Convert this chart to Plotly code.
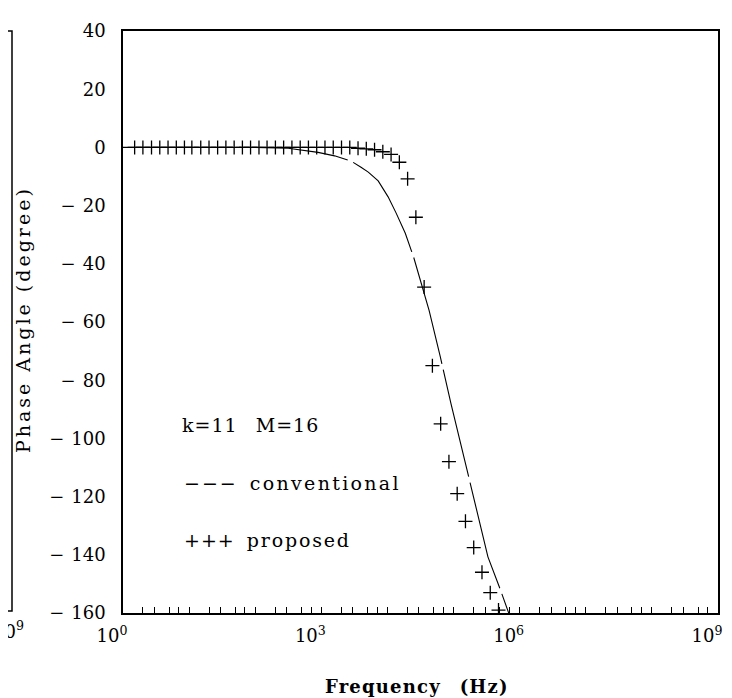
import plotly.graph_objects as go

# ---- data ----
freq_conventional = [1, 10, 100, 316, 891, 1585, 2818, 3981, 5129, 7244, 10233,
                     13490, 18621, 25119, 32359, 42658, 63096, 91201, 158489,
                     331131, 501187, 660693, 707946]
phase_conventional = [0, 0, 0, -0.3, -1.7, -2.9, -4.7, -6.8, -8.5, -11.5, -17,
                      -22.5, -29.5, -38, -46.4, -56, -72, -88, -110.5,
                      -140.7, -151.5, -159.3, -161]

freq_proposed = [1.5, 2.0, 2.7, 3.6, 4.8, 6.4, 8.5, 11, 15, 20, 27, 36, 48, 64,
                 85, 114, 151, 202, 269, 359, 479, 638, 851, 1135, 1514, 2019,
                 2692, 3590, 4786, 6383, 8511, 11350, 15136, 20184, 26915,
                 35892, 47863, 63826, 85114, 113501, 151356, 201837, 269153,
                 358922, 478630]
phase_proposed = [0, 0, 0, 0, 0, 0, 0, 0, 0, 0, 0, 0, 0, 0,
                  0, 0, 0, 0, 0, 0, 0, 0, 0, 0, 0, 0,
                  0, -0.3, -0.5, -0.8, -1.5, -2.4, -5.1, -10.8, -24,
                  -48, -75, -95, -108, -119, -128.5, -137.5, -146,
                  -153, -159]

x_major = [1, 1e3, 1e6, 1e9]
x_major_labels = ["10<sup>0</sup>", "10<sup>3</sup>", "10<sup>6</sup>", "10<sup>9</sup>"]
y_ticks = [40, 20, 0, -20, -40, -60, -80, -100, -120, -140, -160]
y_labels = ["40", "20", "0", "−20", "−40", "−60", "−80", "−100", "−120", "−140", "−160"]

# x tick positions (decades + a few minor multiples)
tickvals, ticktext = [], []
for d in range(10):
    base = 10 ** d
    tickvals.append(base)
    ticktext.append(x_major_labels[x_major.index(base)] if base in x_major else "")
    if d < 9:
        for m in (2, 3, 5, 7):
            tickvals.append(m * base)
            ticktext.append("")

def spaced_minus(s):
    if s.startswith("−"):
        return '<span style="letter-spacing:7px">−</span>' + s[1:]
    return s

FONT = "DejaVu Serif"

fig = go.Figure()
fig.add_trace(go.Scatter(
    x=freq_conventional, y=phase_conventional, mode="lines",
    line=dict(color="black", width=1.1, dash="110px,6px"),
    showlegend=False, hoverinfo="skip"))
fig.add_trace(go.Scatter(
    x=freq_proposed, y=phase_proposed, mode="markers",
    marker=dict(symbol="cross-thin", size=10, line=dict(color="black", width=1.3)),
    showlegend=False, hoverinfo="skip"))

L, R, T, B = 115, 710, 15, 605
W, H = 732, 698
def px(x):
    return (x - L) / (R - L)
def py(y):
    return (B - y) / (B - T)

def ls(text, sp):
    return f'<span style="letter-spacing:{sp}px">{text}</span>'

annotations = [
    dict(text=ls("k=11", 1) + "&nbsp;&nbsp;&nbsp;" + ls("M=16", 1),
         x=px(172), y=py(414), xanchor="left", yanchor="middle"),
    dict(text=ls("−−−", 2) + "&nbsp;&nbsp;" + ls("conventional", 2.3),
         x=px(174), y=py(473), xanchor="left", yanchor="middle"),
    dict(text=ls("+++", 1) + "&nbsp;&nbsp;" + ls("proposed", 1.8),
         x=px(174), y=py(531), xanchor="left", yanchor="middle"),
    dict(text=ls("Phase Angle (degree)", 3), x=px(15), y=py(307), xanchor="center", yanchor="middle",
         textangle=-90, font=dict(family=FONT, size=19, color="black")),
    dict(text="<b>" + ls("Frequency", 1.2) + "&nbsp;&nbsp;&nbsp;" + ls("(Hz)", 1.2) + "</b>",
         x=px(409), y=py(680), xanchor="center", yanchor="middle",
         font=dict(family=FONT, size=18, color="black")),
    dict(text="10<sup>9</sup>", x=px(18), y=py(622), xanchor="right", yanchor="middle",
         font=dict(family=FONT, size=18, color="black")),
]
for a in annotations:
    a.setdefault("font", dict(family=FONT, size=19, color="black"))
    a.update(xref="paper", yref="paper", showarrow=False)

fig.update_layout(
    width=W, height=H,
    margin=dict(l=L, r=W - R, t=T, b=H - B, pad=0),
    paper_bgcolor="white", plot_bgcolor="white",
    font=dict(family=FONT, size=18, color="black"),
    showlegend=False,
    annotations=annotations,
    shapes=[dict(type="path", xref="paper", yref="paper",
                 path=f"M {px(-2)} {py(T)} L {px(4)} {py(T)} L {px(4)} {py(603)} L {px(-2)} {py(603)}",
                 line=dict(color="black", width=1.5))],
)
fig.update_xaxes(
    type="log", range=[0, 9], tickvals=tickvals, ticktext=ticktext,
    ticks="inside", ticklen=6, tickwidth=1, tickcolor="black",
    showline=True, linecolor="black", linewidth=1.6, mirror=True,
    showgrid=False, zeroline=False, ticklabelshift=-11, ticklabelstandoff=6,
    tickfont=dict(family=FONT, size=18),
)
fig.update_yaxes(
    range=[-160, 40], tickvals=y_ticks, ticktext=[spaced_minus(s) for s in y_labels], ticks="",
    showline=True, linecolor="black", linewidth=1.6, mirror=True,
    showgrid=False, zeroline=False, ticklabelstandoff=12,
    tickfont=dict(family=FONT, size=18),
)
fig.write_html("out.html")
